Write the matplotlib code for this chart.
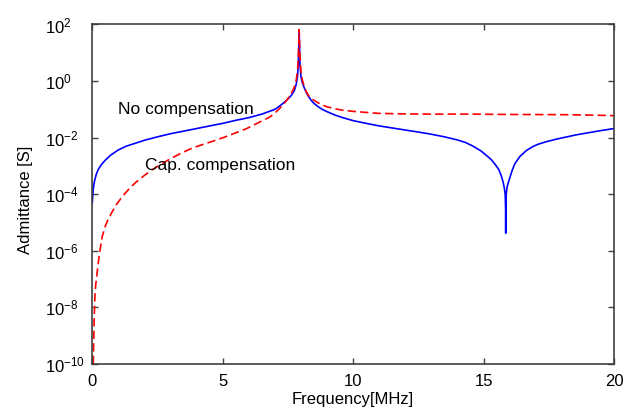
import matplotlib
matplotlib.use("Agg")
import matplotlib.pyplot as plt
from matplotlib.ticker import FixedLocator, NullLocator, LogFormatterMathtext

plt.rcParams['font.family'] = ['Liberation Sans', 'DejaVu Sans']
plt.rcParams['mathtext.fontset'] = 'custom'
plt.rcParams['mathtext.rm'] = 'Liberation Sans'
plt.rcParams['mathtext.it'] = 'Liberation Sans:italic'
plt.rcParams['mathtext.bf'] = 'Liberation Sans:bold'

# No compensation (blue, solid): frequency [MHz], admittance [S]
blue_freq = [0.0, 0.03, 0.08, 0.15, 0.23, 0.35, 0.49, 0.7, 1.0, 1.3, 1.64, 2.0, 2.5, 3.0,
             3.5, 4.0, 4.5, 5.0, 5.5, 6.0, 6.5, 7.0, 7.2, 7.4, 7.55, 7.65, 7.75, 7.82,
             7.87, 7.90, 7.93, 7.96, 8.0, 8.05, 8.1, 8.2, 8.3, 8.4, 8.5, 8.65, 8.8, 9.0,
             9.3, 9.6, 10.0, 10.5, 11.0, 11.5, 12.0, 12.5, 13.0, 13.5, 14.0, 14.3, 14.6,
             14.9, 15.1, 15.3, 15.45, 15.58, 15.68, 15.75, 15.8, 15.83, 15.845, 15.85,
             15.855, 15.87, 15.9, 15.98, 16.1, 16.2, 16.4, 16.64, 16.9, 17.1, 17.41, 17.8,
             18.2, 18.56, 19.0, 19.5, 20.0]
blue_adm = [5.0e-5, 1.41e-4, 2.8e-4, 5.0e-4, 7.6e-4, 1.12e-3, 1.58e-3, 2.4e-3, 3.7e-3,
            5.0e-3, 6.3e-3, 8.1e-3, 1.07e-2, 1.38e-2, 1.70e-2, 2.1e-2, 2.6e-2, 3.2e-2,
            4.1e-2, 5.1e-2, 6.8e-2, 0.100, 0.135, 0.19, 0.26, 0.33, 0.47, 0.79, 1.6, 4.0,
            63.0, 4.0, 1.41, 0.89, 0.66, 0.40, 0.275, 0.204, 0.162, 0.126, 0.102, 0.083,
            0.063, 0.051, 0.040, 0.032, 0.026, 0.022, 0.0186, 0.0158, 0.0132, 0.0107,
            8.3e-3, 6.8e-3, 5.0e-3, 3.4e-3, 2.4e-3, 1.66e-3, 1.12e-3, 7.6e-4, 4.5e-4,
            2.7e-4, 1.58e-4, 1.0e-4, 3.2e-5, 4.2e-6, 3.2e-5, 1.0e-4, 1.78e-4, 3.2e-4,
            7.1e-4, 1.20e-3, 2.2e-3, 3.5e-3, 4.9e-3, 5.9e-3, 7.2e-3, 8.9e-3, 1.07e-2,
            1.26e-2, 1.48e-2, 1.78e-2, 2.1e-2]

# Cap. compensation (red, dashed)
red_freq = [0.035, 0.05, 0.07, 0.10, 0.13, 0.17, 0.21, 0.26, 0.32, 0.38, 0.49, 0.6, 0.74,
            0.9, 1.13, 1.4, 1.64, 1.95, 2.28, 2.6, 2.91, 3.36, 3.81, 4.2, 4.64, 5.1, 5.5,
            5.92, 6.4, 6.81, 7.0, 7.2, 7.4, 7.55, 7.65, 7.75, 7.82, 7.87, 7.90, 7.93,
            7.96, 8.0, 8.05, 8.1, 8.2, 8.3, 8.45, 8.6, 8.8, 9.0, 9.3, 9.6, 10.0, 10.5,
            11.0, 12.0, 13.0, 14.5, 16.0, 18.0, 19.0, 20.0]
red_adm = [1.0e-10, 5.0e-10, 3.6e-9, 2.4e-8, 6.3e-8, 1.23e-7, 2.8e-7, 6.3e-7, 1.48e-6,
           3.2e-6, 7.2e-6, 1.26e-5, 2.2e-5, 4.0e-5, 7.9e-5, 1.51e-4, 2.5e-4, 4.3e-4,
           7.2e-4, 1.10e-3, 1.62e-3, 2.7e-3, 4.2e-3, 5.6e-3, 7.6e-3, 1.07e-2, 1.48e-2,
           2.1e-2, 3.5e-2, 5.4e-2, 0.074, 0.112, 0.18, 0.28, 0.40, 0.63, 1.12, 2.5, 7.9,
           66.0, 7.9, 2.2, 1.12, 0.76, 0.42, 0.30, 0.224, 0.182, 0.145, 0.123, 0.105,
           0.093, 0.085, 0.078, 0.072, 0.069, 0.068, 0.068, 0.066, 0.065, 0.063, 0.060]

x_ticks = [0, 5, 10, 15, 20]
y_ticks = [1e-10, 1e-8, 1e-6, 1e-4, 1e-2, 1e0, 1e2]

fig = plt.figure(figsize=(6.31, 4.20), dpi=100)
ax = fig.add_axes([0.1463, 0.1333, 0.8267, 0.8084])

ax.plot(blue_freq, blue_adm, color='#0000ff', lw=1.2)
ax.plot(red_freq, red_adm, color='#ff0000', lw=1.2, dashes=(5, 2.5))

ax.set_yscale('log')
ax.set_xlim(0, 20)
ax.set_ylim(1e-10, 1e2)
ax.xaxis.set_major_locator(FixedLocator(x_ticks))
ax.yaxis.set_major_locator(FixedLocator(y_ticks))
ax.yaxis.set_major_formatter(LogFormatterMathtext())
ax.yaxis.set_minor_locator(NullLocator())
ax.xaxis.set_minor_locator(NullLocator())

for s in ax.spines.values():
    s.set_color('#404040')
    s.set_linewidth(1.2)

ax.tick_params(axis='both', which='major', direction='in', top=True, right=True,
               length=4.5, width=1.0, color='#404040', labelsize=12)
ax.tick_params(axis='x', pad=7.5)
ax.tick_params(axis='y', pad=33.8)
for lab in ax.get_yticklabels():
    lab.set_horizontalalignment('left')

ax.set_xlabel('Frequency[MHz]', fontsize=12, labelpad=2)
ax.set_ylabel('Admittance [S]', fontsize=12)
ax.yaxis.set_label_coords(-0.114, 0.483)

ax.text(0.98, 0.103, 'No compensation', fontsize=12.5, ha='left', va='center')
ax.text(2.02, 1.0e-3, 'Cap. compensation', fontsize=12.5, ha='left', va='center')

fig.savefig('out.png', dpi=100)
